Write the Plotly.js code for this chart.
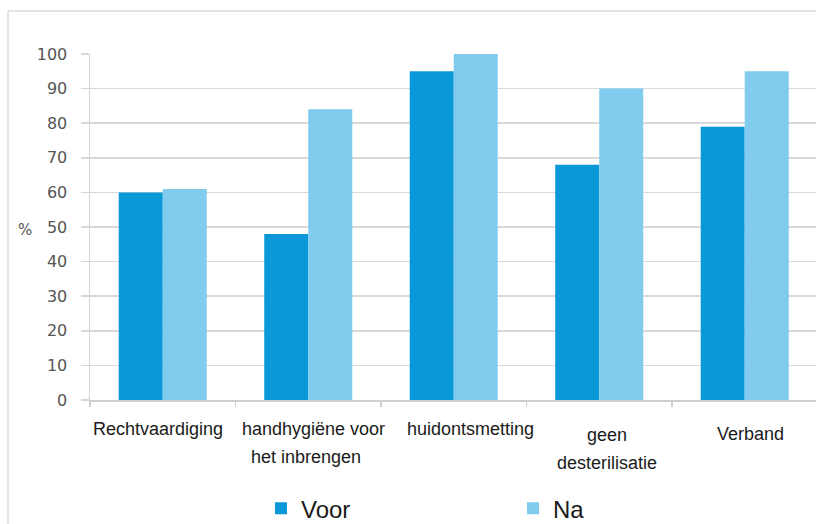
<!DOCTYPE html>
<html>
<head>
<meta charset="utf-8">
<script src="https://cdn.plot.ly/plotly-3.0.1.min.js"></script>
<style>
html,body{margin:0;padding:0;background:#fff;overflow:hidden;}
#chart{width:816px;height:524px;}
</style>
</head>
<body>
<div id="chart"></div>
<script>
// ---- data ----
var categories = ["Rechtvaardiging", "handhygiëne voor het inbrengen", "huidontsmetting", "geen desterilisatie", "Verband"];
var categoryLabelLines = [["Rechtvaardiging"], ["handhygiëne voor", "het inbrengen"], ["huidontsmetting"], ["geen", "desterilisatie"], ["Verband"]];
var voorValues = [60, 48, 95, 68, 79];
var naValues = [61, 84, 100, 90, 95];
var seriesNames = ["Voor", "Na"];
var yTickValues = [0, 10, 20, 30, 40, 50, 60, 70, 80, 90, 100];

// ---- layout tweaks for the category labels (pixels) ----
var labelShiftX = [-5, 5, 17, 8, 6];
var labelShiftY = [-17, -17, -17, -23, -22];
var lineSpacing = 28;

var labelFont = "'Liberation Sans', Arial, sans-serif";

var traces = [
  {type: "bar", name: seriesNames[0], x: categories, y: voorValues,
   marker: {color: "#0a98d8"}},
  {type: "bar", name: seriesNames[1], x: categories, y: naValues,
   marker: {color: "#80cbee"}}
];

var annotations = [];
categories.forEach(function (c, i) {
  categoryLabelLines[i].forEach(function (line, j) {
    annotations.push({
      x: c, y: 0, xref: "x", yref: "y",
      text: line, showarrow: false,
      xanchor: "center", yanchor: "top",
      xshift: labelShiftX[i] + (j === 1 && i === 1 ? -7 : 0),
      yshift: labelShiftY[i] - j * lineSpacing,
      font: {family: labelFont, size: 18, color: "#1a1a1a"}
    });
  });
});
annotations.push({
  x: -0.0895, y: 50, xref: "paper", yref: "y", text: "%", showarrow: false,
  xanchor: "center", yanchor: "middle", yshift: -3,
  font: {family: "DejaVu Sans", size: 15, color: "#555"}
});

var layout = {
  width: 816, height: 524,
  margin: {l: 90, r: 0, t: 54, b: 124, autoexpand: false},
  paper_bgcolor: "#ffffff", plot_bgcolor: "#ffffff",
  barmode: "group", bargap: 0.395, bargroupgap: 0,
  showlegend: true,
  legend: {
    orientation: "h", x: 0.2355, xanchor: "left", y: -0.249, yanchor: "top",
    font: {family: labelFont, size: 24, color: "#1a1a1a"},
    entrywidth: 207, entrywidthmode: "pixels",
    bgcolor: "rgba(0,0,0,0)", traceorder: "normal"
  },
  xaxis: {
    type: "category", range: [-0.5, 4.49],
    showticklabels: false, showgrid: false, zeroline: false,
    showline: true, linecolor: "#cfcfcf", linewidth: 1.5,
    ticks: "outside", tickson: "boundaries", ticklen: 5, tickcolor: "#cfcfcf", tickwidth: 1.5
  },
  yaxis: {
    range: [0, 100], tickvals: yTickValues,
    showgrid: true, gridcolor: "#d9d9d9", gridwidth: 1.5,
    zeroline: false, showline: true, linecolor: "#d4d4d4", linewidth: 1.5,
    ticks: "outside", ticklen: 8, tickcolor: "#d9d9d9", tickwidth: 1.5,
    ticklabelstandoff: 10,
    tickfont: {family: "DejaVu Sans", size: 16, color: "#555"}
  },
  annotations: annotations,
  shapes: [
    {type: "line", xref: "paper", yref: "paper", x0: -0.113, x1: -0.113, y0: 1.124, y1: -0.4,
     line: {color: "#e3e3e3", width: 2}},
    {type: "line", xref: "paper", yref: "paper", x0: -0.113, x1: 1.0, y0: 1.124, y1: 1.124,
     line: {color: "#e3e3e3", width: 2}}
  ]
};

Plotly.newPlot("chart", traces, layout, {displayModeBar: false, staticPlot: true});
</script>
</body>
</html>
